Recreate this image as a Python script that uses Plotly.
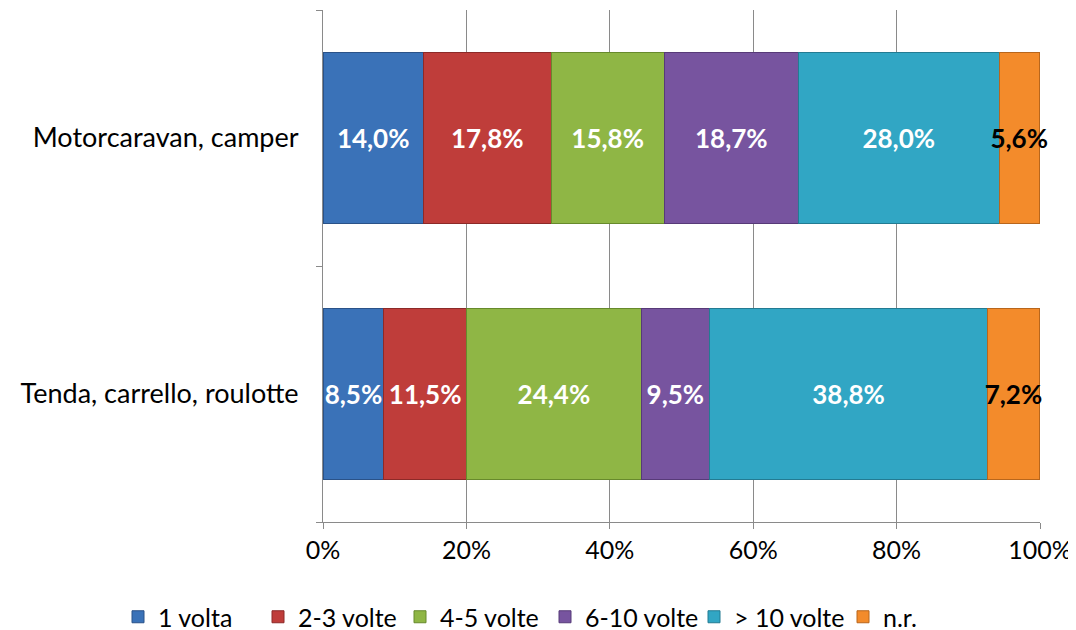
import plotly.graph_objects as go

categories = ["Tenda, carrello, roulotte", "Motorcaravan, camper"]
series = ["1 volta", "2-3 volte", "4-5 volte", "6-10 volte", "> 10 volte", "n.r."]
values = {
    "1 volta": [8.5, 14.0],
    "2-3 volte": [11.5, 17.8],
    "4-5 volte": [24.4, 15.8],
    "6-10 volte": [9.5, 18.7],
    "> 10 volte": [38.8, 28.0],
    "n.r.": [7.2, 5.6],
}
colors = ["#3a72b8", "#bf3d3a", "#8fb645", "#77549f", "#31a6c4", "#f38b2b"]
edges = ["#2a5288", "#8c2a28", "#678a2c", "#573a78", "#237b92", "#b8661c"]
label_colors = ["white", "white", "white", "white", "white", "black"]
# left edge of each legend entry, in px of the figure
legend_x = [110, 250, 392, 537, 686, 835]

fig = go.Figure()
for i, s in enumerate(series):
    lg = "legend" if i == 0 else f"legend{i + 1}"
    fig.add_trace(go.Bar(
        y=categories, x=values[s], name=s, orientation="h", legend=lg,
        marker=dict(color=colors[i], line=dict(color=edges[i], width=1)),
        texttemplate="%{x:.1f}%", textposition="inside", textangle=0,
        insidetextanchor="middle", cliponaxis=False,
        textfont=dict(family="Lato", size=26, color=label_colors[i], weight="bold"),
    ))

W, H = 1068, 622  # page body has an 8px default margin
legends = {}
for i, lx in enumerate(legend_x):
    key = "legend" if i == 0 else f"legend{i + 1}"
    legends[key] = dict(orientation="h", xref="container", x=lx / W, xanchor="left",
                        yref="container", y=13 / H, yanchor="middle",
                        font=dict(size=25), itemwidth=30, bgcolor="rgba(0,0,0,0)")

fig.update_layout(
    barmode="stack", bargap=0.33,
    separators=",.",
    width=W, height=H,
    margin=dict(l=315, r=36, t=2, b=108, autoexpand=False),
    plot_bgcolor="white", paper_bgcolor="white",
    font=dict(family="Lato", size=25, color="black"),
    uniformtext=dict(minsize=26, mode="show"),
    showlegend=True,
    **legends,
)
fig.update_xaxes(
    range=[0, 100], dtick=20, ticksuffix="%", automargin=False,
    showgrid=True, gridcolor="#8a8a8a", gridwidth=1,
    showline=True, linecolor="#8a8a8a", ticks="outside", ticklen=6, tickcolor="#8a8a8a",
    zeroline=False, tickfont=dict(size=25),
)
fig.update_yaxes(
    showline=True, linecolor="#8a8a8a", ticks="outside", ticklen=6, tickcolor="#8a8a8a",
    tickson="boundaries", showgrid=False, tickfont=dict(size=27), ticklabelstandoff=18,
    automargin=False,
)

fig.write_html("out.html")
